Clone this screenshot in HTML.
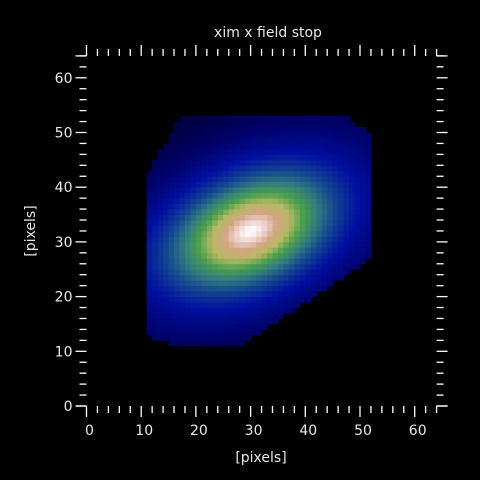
<!DOCTYPE html>
<html><head><meta charset="utf-8"><style>
html,body{margin:0;padding:0;background:#000;}
svg{display:block;}
text{font-family:"DejaVu Sans","Liberation Sans",sans-serif;fill:#e8e8e8;font-size:14px;}
</style></head><body>
<svg id="chart" width="480" height="480" viewBox="0 0 480 480">
<rect width="480" height="480" fill="#000"/>
<text x="268" y="37" text-anchor="middle">xim x field stop</text>
<text x="261" y="462" text-anchor="middle">[pixels]</text>
<text x="35" y="231" text-anchor="middle" transform="rotate(-90 35 231)">[pixels]</text>
<g id="img"></g>
<g id="axes"></g>
</svg>
<script>
// Axis tick labels
const xTickLabels = [0,10,20,30,40,50,60];
const yTickLabels = [0,10,20,30,40,50,60];
// Spot profile parameters: [centerX, centerY]
const spotCenter = [30, 32];
const spotSigma = [11, 6.6];   // major, minor (pixels)
const spotAngleDeg = [24];
const spotShape = [0.75];
const spotFloor = [0.02];
// Field-stop mask polygon vertices (data coordinates)
const maskX = [11, 11, 17, 47, 52, 52, 28, 17, 13];
const maskY = [14, 42, 53, 53, 50, 27, 11, 11, 12];

const X0=86.5, Y0=406, S=5.47;
const sx=v=>X0+v*S, sy=v=>Y0-v*S;
const NS="http://www.w3.org/2000/svg";

const stops=[[0,[0,0,40]],[0.12,[0,0,100]],[0.28,[0,15,160]],[0.42,[20,70,145]],[0.54,[50,125,125]],[0.65,[75,160,75]],[0.76,[185,185,100]],[0.86,[210,165,130]],[0.95,[240,215,215]],[1,[255,255,255]]];
function cmap(v){v=Math.max(0,Math.min(1,v));for(let i=1;i<stops.length;i++){if(v<=stops[i][0]){const a=stops[i-1],b=stops[i],t=(v-a[0])/(b[0]-a[0]);return 'rgb('+a[1].map((c,k)=>Math.round(c+(b[1][k]-c)*t)).join(',')+')';}}return '#fff';}
function inside(px,py){let c=false;for(let i=0,j=maskX.length-1;i<maskX.length;j=i++){const xi=maskX[i],yi=maskY[i],xj=maskX[j],yj=maskY[j];if(((yi>py)!=(yj>py))&&(px<(xj-xi)*(py-yi)/(yj-yi)+xi))c=!c;}return c;}
const img=document.getElementById('img');
const th=spotAngleDeg[0]*Math.PI/180,c=Math.cos(th),s=Math.sin(th);
for(let i=0;i<64;i++)for(let j=0;j<64;j++){
  const px=i+0.5,py=j+0.5;
  if(!inside(px,py))continue;
  const dx=px-spotCenter[0],dy=py-spotCenter[1];
  const u=dx*c+dy*s,w=-dx*s+dy*c;
  const q=u*u/(spotSigma[0]*spotSigma[0])+w*w/(spotSigma[1]*spotSigma[1]);
  const v=spotFloor[0]+(1-spotFloor[0])*Math.exp(-0.5*Math.pow(q,spotShape[0]));
  const r=document.createElementNS(NS,'rect');
  r.setAttribute('x',sx(i));r.setAttribute('y',sy(j+1));
  r.setAttribute('width',S+0.4);r.setAttribute('height',S+0.4);
  r.setAttribute('fill',cmap(v));
  
  
  img.appendChild(r);
}
const ax=document.getElementById('axes');
function line(x1,y1,x2,y2){const l=document.createElementNS(NS,'line');l.setAttribute('x1',x1);l.setAttribute('y1',y1);l.setAttribute('x2',x2);l.setAttribute('y2',y2);l.setAttribute('stroke','#fff');l.setAttribute('stroke-width','1.3');


ax.appendChild(l);}
const L=sx(0),R=sx(64),B=sy(0),T=sy(64);
for(let v=0;v<=64;v+=2){
  const maj=v%10===0,len=maj?11:7;
  line(sx(v),B,sx(v),B+len);line(sx(v),T,sx(v),T-len);
  line(L,sy(v),L-len,sy(v));line(R,sy(v),R+len,sy(v));
}
line(L-11,B,L,B);line(R,B,R+11,B);line(L-11,T,L,T);line(R,T,R+11,T);
xTickLabels.forEach(v=>{const t=document.createElementNS(NS,'text');t.setAttribute('x',sx(v)+3);t.setAttribute('y',B+29);t.setAttribute('text-anchor','middle');t.textContent=v;


ax.appendChild(t);});
yTickLabels.forEach(v=>{const t=document.createElementNS(NS,'text');t.setAttribute('x',L-14);t.setAttribute('y',sy(v)+5);t.setAttribute('text-anchor','end');t.textContent=v;


ax.appendChild(t);});
</script>
</body></html>
